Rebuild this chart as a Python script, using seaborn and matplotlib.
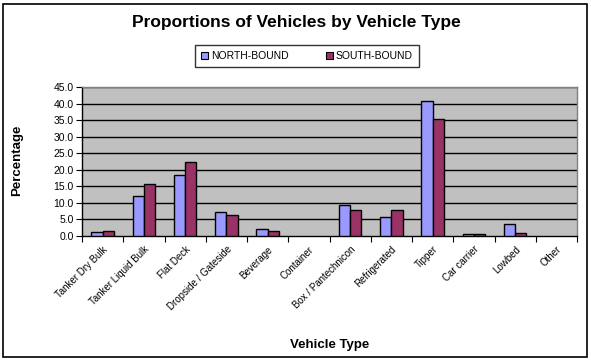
import matplotlib
matplotlib.use("Agg")
import matplotlib.pyplot as plt
import seaborn as sns
import pandas as pd
import numpy as np
from matplotlib.patches import Rectangle

categories = ["Tanker Dry Bulk", "Tanker Liquid Bulk", "Flat Deck", "Dropside / Gateside",
              "Beverage", "Container", "Box / Pantechnicon", "Refrigerated", "Tipper",
              "Car carrier", "Lowbed", "Other"]
north = [1.1, 12.0, 18.3, 7.1, 2.0, 0.0, 9.3, 5.6, 40.8, 0.5, 3.5, 0.0]
south = [1.4, 15.6, 22.3, 6.3, 1.4, 0.0, 8.0, 8.0, 35.4, 0.5, 0.8, 0.0]
series = ["NORTH-BOUND", "SOUTH-BOUND"]
colors = ["#9999FF", "#993366"]
yticks = [0, 5, 10, 15, 20, 25, 30, 35, 40, 45]

df = pd.DataFrame({
    "Vehicle Type": categories * 2,
    "Percentage": north + south,
    "Direction": [series[0]] * len(categories) + [series[1]] * len(categories),
})

sns.set_theme(style="white")
plt.rcParams["font.family"] = ["Liberation Sans", "DejaVu Sans"]
plt.rcParams["text.color"] = "black"
plt.rcParams["xtick.color"] = "black"
plt.rcParams["ytick.color"] = "black"
plt.rcParams["axes.labelcolor"] = "black"

fig = plt.figure(figsize=(5.91, 3.61), dpi=100)
W, H = 591, 361
ax = fig.add_axes([82 / W, 1 - 236 / H, (577 - 82) / W, (236 - 87) / H])
ax.set_facecolor("#C0C0C0")

sns.barplot(data=df, x="Vehicle Type", y="Percentage", hue="Direction",
            palette=colors, width=0.55, edgecolor="black", linewidth=1.0,
            saturation=1, ax=ax, legend=False, zorder=3)
for p in ax.patches:
    if p.get_height() == 0:
        p.set_edgecolor("none")

ax.set_ylim(0, 45)
ax.set_xlim(-0.5, len(categories) - 0.5)
ax.set_yticks(yticks)
ax.set_yticklabels([f"{v:.1f}" for v in yticks], fontsize=7.5)
for v in yticks[1:]:
    ax.axhline(v, color="black", linewidth=1.0, zorder=1)

ax.set_xticks(range(len(categories)))
ax.set_xticklabels(categories, rotation=45, ha="right", rotation_mode="anchor", fontsize=7)
ax.tick_params(axis="x", which="major", length=0, pad=6)
ax.set_xticks(np.arange(-0.5, len(categories), 1.0), minor=True)
ax.tick_params(axis="x", which="minor", length=4, width=0.8, color="black", direction="out", bottom=True)
ax.tick_params(axis="y", length=4, width=0.8, color="black", direction="out", left=True, pad=2)

for side in ["top", "right"]:
    ax.spines[side].set_color("#808080")
    ax.spines[side].set_linewidth(1.0)
ax.spines["left"].set_color("black")
ax.spines["bottom"].set_color("black")
ax.spines["left"].set_linewidth(1.0)
ax.spines["bottom"].set_linewidth(1.0)

ax.set_xlabel("")
ax.set_ylabel("")
fig.text(17 / W, 1 - 160 / H, "Percentage", rotation=90, ha="center", va="center",
         fontsize=9.5, fontweight="bold")
fig.text(330 / W, 1 - 345 / H, "Vehicle Type", ha="center", va="center",
         fontsize=9.5, fontweight="bold")
fig.text(296 / W, 1 - 22 / H, "Proportions of Vehicles by Vehicle Type", ha="center",
         va="center", fontsize=12.5, fontweight="bold")

# legend
handles = [Rectangle((0, 0), 1, 1, facecolor=c, edgecolor="black", linewidth=0.8) for c in colors]
leg = fig.legend(handles, series, loc="center", bbox_to_anchor=(307 / W, 1 - 56 / H),
                 ncol=2, frameon=True, fontsize=7.5, handlelength=0.7, handleheight=0.7,
                 handletextpad=0.3, columnspacing=3.5, borderpad=0.6, fancybox=False)
leg.get_frame().set_edgecolor("black")
leg.get_frame().set_linewidth(1.0)

# outer frame
fig.patches.append(Rectangle((3 / W, 1 - 357 / H), 584 / W, 353 / H, transform=fig.transFigure,
                             fill=False, edgecolor="black", linewidth=1.2))

fig.savefig("out.png", dpi=100, facecolor="white")
